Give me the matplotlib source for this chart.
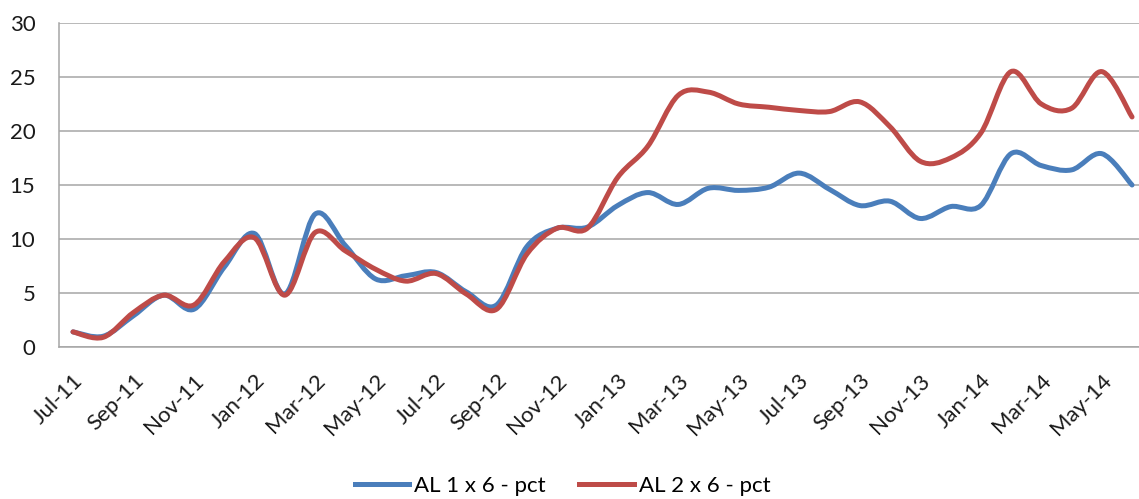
import numpy as np
import matplotlib
matplotlib.use("Agg")
import matplotlib.pyplot as plt
import matplotlib.transforms as mtransforms
from matplotlib.path import Path
from matplotlib.patches import PathPatch
from matplotlib.lines import Line2D

plt.rcParams['font.family'] = ['Lato', 'DejaVu Sans']

# monthly series, Jul-11 .. Jun-14
months = ['Jul-11', 'Aug-11', 'Sep-11', 'Oct-11', 'Nov-11', 'Dec-11',
          'Jan-12', 'Feb-12', 'Mar-12', 'Apr-12', 'May-12', 'Jun-12',
          'Jul-12', 'Aug-12', 'Sep-12', 'Oct-12', 'Nov-12', 'Dec-12',
          'Jan-13', 'Feb-13', 'Mar-13', 'Apr-13', 'May-13', 'Jun-13',
          'Jul-13', 'Aug-13', 'Sep-13', 'Oct-13', 'Nov-13', 'Dec-13',
          'Jan-14', 'Feb-14', 'Mar-14', 'Apr-14', 'May-14', 'Jun-14']

al_1x6 = [1.4, 1.0, 2.9, 4.8, 3.5, 7.4,
          10.5, 4.9, 12.3, 9.4, 6.3, 6.6,
          6.9, 5.1, 3.9, 9.3, 11.0, 11.1,
          13.1, 14.3, 13.2, 14.7, 14.5, 14.8,
          16.1, 14.6, 13.1, 13.5, 11.9, 13.0,
          13.1, 17.9, 16.8, 16.4, 17.9, 15.0]

al_2x6 = [1.4, 0.9, 3.2, 4.8, 3.9, 7.9,
          10.1, 4.8, 10.6, 8.9, 7.2, 6.1,
          6.8, 4.9, 3.5, 8.6, 11.0, 11.0,
          15.7, 18.6, 23.3, 23.6, 22.5, 22.2,
          21.9, 21.8, 22.7, 20.4, 17.2, 17.5,
          19.8, 25.5, 22.5, 22.1, 25.5, 21.3]

names = ['AL 1 x 6 - pct', 'AL 2 x 6 - pct']
colors = ['#4A7EBB', '#BE4B48']


def smooth_path(x, y):
    # cubic bezier through every point, like a spreadsheet "smoothed line"
    pts = np.column_stack([x, y]).astype(float)
    n = len(pts)
    verts = [pts[0]]
    codes = [Path.MOVETO]
    for i in range(n - 1):
        p0 = pts[i - 1] if i > 0 else pts[i]
        p1 = pts[i]
        p2 = pts[i + 1]
        p3 = pts[i + 2] if i + 2 < n else pts[i + 1]
        c1 = p1 + (p2 - p0) / 6.0
        c2 = p2 - (p3 - p1) / 6.0
        verts += [c1, c2, p2]
        codes += [Path.CURVE4] * 3
    return Path(verts, codes)


fig = plt.figure(figsize=(11.39, 4.99), dpi=100)
ax = fig.add_axes([0.0518, 0.3046, 0.9482, 0.6493])

x = np.arange(len(months))
for vals, c in zip([al_1x6, al_2x6], colors):
    ax.add_patch(PathPatch(smooth_path(x, vals), facecolor='none',
                           edgecolor=c, lw=3.6, capstyle='round',
                           joinstyle='round', zorder=3))

ax.set_xlim(-0.463, 35.23)
ax.set_ylim(0, 30)
ax.set_yticks(range(0, 31, 5))
ax.yaxis.grid(True, color='#A6A6A6', lw=1.1)
ax.set_axisbelow(True)

ax.set_xticks(x[::2])
ax.set_xticklabels(months[::2], rotation=45, ha='right', va='center',
                   rotation_mode='anchor')
ax.tick_params(axis='x', length=0, pad=22, labelsize=16, colors='#1a1a1a')
ax.tick_params(axis='y', length=0, pad=17, labelsize=16, colors='#1a1a1a')
shift = mtransforms.ScaledTranslation(5 / 72, 0, fig.dpi_scale_trans)
for lbl in ax.get_xticklabels():
    lbl.set_transform(lbl.get_transform() + shift)

for s in ['top', 'right']:
    ax.spines[s].set_visible(False)
for s in ['left', 'bottom']:
    ax.spines[s].set_color('#A6A6A6')
    ax.spines[s].set_linewidth(1.1)

handles = [Line2D([], [], color=c, lw=3.6) for c in colors]
fig.legend(handles, names, loc='center', bbox_to_anchor=(0.494, 0.026),
           ncol=2, frameon=False, fontsize=16, handlelength=2.45,
           handletextpad=0.22, columnspacing=1.5)

fig.savefig('out.png', dpi=100)
